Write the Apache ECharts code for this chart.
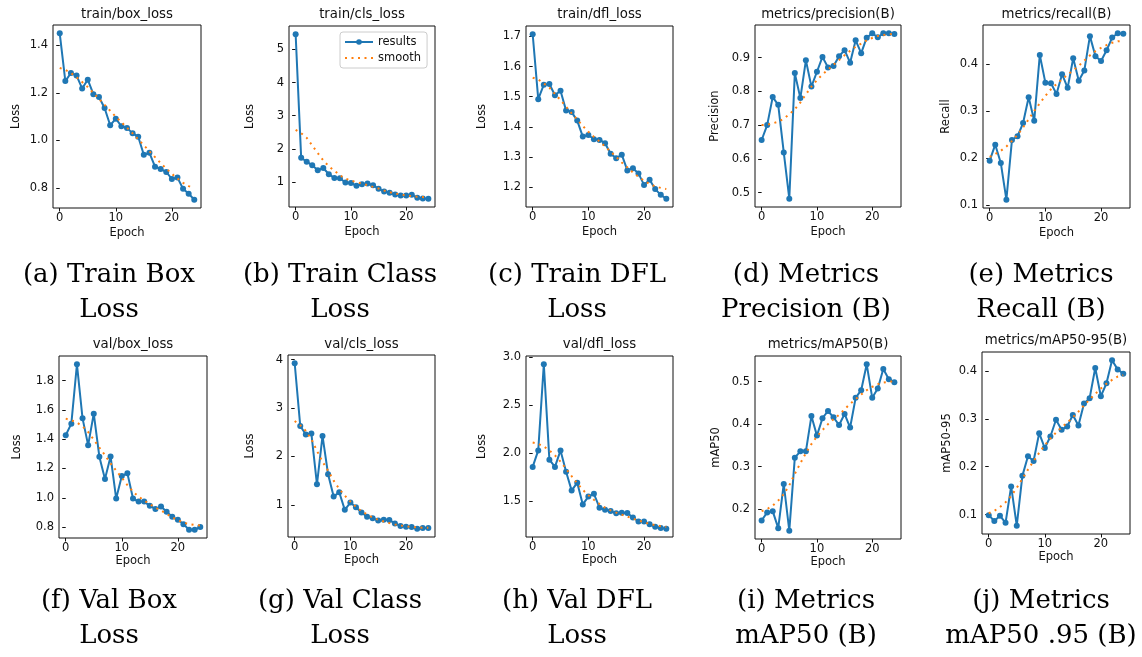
<!DOCTYPE html>
<html>
<head>
<meta charset="utf-8">
<script src="https://cdn.jsdelivr.net/npm/echarts@6/dist/echarts.min.js"></script>
<style>
  html, body { margin: 0; padding: 0; background: #fff; }
  #chart { width: 1142px; height: 657px; }
</style>
</head>
<body>
<div id="chart"></div>
<script>
// ---- training curves, one value per epoch ----
const epochs = [0,1,2,3,4,5,6,7,8,9,10,11,12,13,14,15,16,17,18,19,20,21,22,23,24];

const trainBoxResults = [1.451,1.250,1.284,1.273,1.219,1.256,1.195,1.183,1.137,1.064,1.092,1.060,1.053,1.030,1.016,0.940,0.948,0.890,0.880,0.868,0.838,0.844,0.797,0.776,0.751];
const trainBoxSmooth  = [1.305,1.297,1.284,1.266,1.246,1.225,1.200,1.175,1.150,1.125,1.100,1.077,1.054,1.030,1.005,0.980,0.955,0.930,0.905,0.882,0.860,0.840,0.822,0.808,0.800];

const trainClsResults = [5.46,1.73,1.61,1.50,1.35,1.42,1.23,1.12,1.11,0.98,0.97,0.88,0.93,0.95,0.90,0.79,0.71,0.67,0.62,0.59,0.59,0.61,0.52,0.50,0.49];
const trainClsSmooth  = [2.57,2.47,2.33,2.10,1.87,1.65,1.47,1.34,1.20,1.10,1.04,0.99,0.95,0.90,0.85,0.80,0.74,0.69,0.65,0.62,0.59,0.57,0.55,0.54,0.53];

const trainDflResults = [1.707,1.492,1.540,1.542,1.505,1.520,1.454,1.449,1.421,1.368,1.373,1.359,1.357,1.346,1.311,1.296,1.308,1.256,1.263,1.246,1.208,1.225,1.194,1.175,1.162];
const trainDflSmooth  = [1.563,1.557,1.544,1.530,1.509,1.489,1.467,1.445,1.425,1.403,1.384,1.367,1.352,1.335,1.318,1.301,1.282,1.266,1.249,1.235,1.222,1.211,1.203,1.198,1.194];

const precisionResults = [0.656,0.700,0.783,0.760,0.619,0.482,0.854,0.780,0.892,0.814,0.858,0.902,0.871,0.875,0.904,0.922,0.885,0.951,0.913,0.959,0.972,0.960,0.972,0.972,0.970];
const precisionSmooth  = [0.700,0.701,0.705,0.710,0.719,0.732,0.747,0.767,0.791,0.814,0.833,0.850,0.864,0.879,0.893,0.907,0.920,0.932,0.941,0.951,0.958,0.964,0.967,0.969,0.970];

const recallResults = [0.194,0.228,0.189,0.111,0.238,0.246,0.274,0.329,0.279,0.419,0.360,0.359,0.336,0.378,0.349,0.412,0.364,0.386,0.459,0.416,0.406,0.429,0.456,0.465,0.464];
const recallSmooth  = [0.202,0.208,0.215,0.224,0.236,0.249,0.265,0.282,0.300,0.316,0.332,0.346,0.357,0.367,0.377,0.386,0.396,0.407,0.418,0.427,0.434,0.440,0.445,0.448,0.449];

const valBoxResults = [1.427,1.506,1.911,1.542,1.359,1.574,1.280,1.128,1.282,0.995,1.148,1.167,0.995,0.974,0.974,0.945,0.924,0.940,0.904,0.870,0.850,0.820,0.782,0.782,0.800];
const valBoxSmooth  = [1.540,1.529,1.513,1.488,1.449,1.397,1.343,1.291,1.234,1.185,1.137,1.087,1.042,1.008,0.981,0.956,0.933,0.913,0.890,0.867,0.847,0.831,0.820,0.814,0.811];

const valClsResults = [3.925,2.630,2.452,2.473,1.425,2.425,1.630,1.171,1.260,0.897,1.048,0.952,0.842,0.753,0.726,0.678,0.692,0.685,0.616,0.562,0.548,0.541,0.507,0.521,0.521];
const valClsSmooth  = [2.733,2.644,2.527,2.356,2.116,1.890,1.705,1.500,1.329,1.192,1.068,0.959,0.870,0.801,0.740,0.692,0.658,0.623,0.596,0.575,0.555,0.541,0.534,0.527,0.527];

const valDflResults = [1.853,2.025,2.924,1.929,1.853,2.025,1.802,1.606,1.689,1.462,1.544,1.572,1.428,1.407,1.393,1.369,1.376,1.373,1.325,1.284,1.284,1.256,1.229,1.215,1.208];
const valDflSmooth  = [2.107,2.094,2.066,2.025,1.974,1.908,1.833,1.757,1.682,1.613,1.558,1.510,1.466,1.428,1.400,1.376,1.356,1.335,1.314,1.294,1.277,1.259,1.246,1.235,1.229];

const map50Results = [0.173,0.192,0.195,0.155,0.259,0.149,0.321,0.336,0.336,0.419,0.373,0.414,0.431,0.416,0.398,0.424,0.392,0.462,0.480,0.541,0.462,0.484,0.530,0.506,0.499];
const map50Smooth  = [0.195,0.200,0.208,0.220,0.235,0.256,0.283,0.308,0.332,0.353,0.371,0.386,0.400,0.412,0.422,0.435,0.448,0.459,0.470,0.480,0.488,0.494,0.498,0.500,0.501];

const map5095Results = [0.099,0.087,0.098,0.083,0.159,0.077,0.181,0.222,0.212,0.270,0.239,0.263,0.298,0.277,0.284,0.308,0.286,0.332,0.343,0.406,0.347,0.374,0.422,0.403,0.394];
const map5095Smooth  = [0.103,0.108,0.116,0.126,0.139,0.156,0.175,0.194,0.212,0.229,0.245,0.259,0.271,0.282,0.292,0.303,0.315,0.328,0.340,0.352,0.363,0.373,0.381,0.388,0.391];

// ---- tick values ----
const epochTicks     = [0, 10, 20];
const ticksTrainBox  = [0.8, 1.0, 1.2, 1.4];
const ticksTrainCls  = [1, 2, 3, 4, 5];
const ticksTrainDfl  = [1.2, 1.3, 1.4, 1.5, 1.6, 1.7];
const ticksPrecision = [0.5, 0.6, 0.7, 0.8, 0.9];
const ticksRecall    = [0.1, 0.2, 0.3, 0.4];
const ticksValBox    = [0.8, 1.0, 1.2, 1.4, 1.6, 1.8];
const ticksValCls    = [1, 2, 3, 4];
const ticksValDfl    = [1.5, 2.0, 2.5, 3.0];
const ticksMap50     = [0.2, 0.3, 0.4, 0.5];
const ticksMap5095   = [0.1, 0.2, 0.3, 0.4];

// ---- panel titles, axis names and captions ----
const panelTitles = ['train/box_loss','train/cls_loss','train/dfl_loss','metrics/precision(B)','metrics/recall(B)',
                     'val/box_loss','val/cls_loss','val/dfl_loss','metrics/mAP50(B)','metrics/mAP50-95(B)'];
const yNames = ['Loss','Loss','Loss','Precision','Recall','Loss','Loss','Loss','mAP50','mAP50-95'];
const captions = [
  ['(a) Train Box', 'Loss'], ['(b) Train Class', 'Loss'], ['(c) Train DFL', 'Loss'],
  ['(d) Metrics', 'Precision (B)'], ['(e) Metrics', 'Recall (B)'],
  ['(f) Val Box', 'Loss'], ['(g) Val Class', 'Loss'], ['(h) Val DFL', 'Loss'],
  ['(i) Metrics', 'mAP50 (B)'], ['(j) Metrics', 'mAP50 .95 (B)']
];

// ---- layout of the ten small plots ----
const series = [
  [trainBoxResults, trainBoxSmooth, ticksTrainBox, 1],
  [trainClsResults, trainClsSmooth, ticksTrainCls, 0],
  [trainDflResults, trainDflSmooth, ticksTrainDfl, 1],
  [precisionResults, precisionSmooth, ticksPrecision, 1],
  [recallResults, recallSmooth, ticksRecall, 1],
  [valBoxResults, valBoxSmooth, ticksValBox, 1],
  [valClsResults, valClsSmooth, ticksValCls, 0],
  [valDflResults, valDflSmooth, ticksValDfl, 1],
  [map50Results, map50Smooth, ticksMap50, 1],
  [map5095Results, map5095Smooth, ticksMap5095, 1]
];
const layout = [
  { rect: [53, 25, 148, 183],  yGap: 38, titleY: 15,  xGap: 19 },
  { rect: [289, 26, 146, 181], yGap: 40, titleY: 15,  xGap: 19 },
  { rect: [526, 26, 147, 181], yGap: 45, titleY: 15,  xGap: 19 },
  { rect: [755, 25, 146, 182], yGap: 41, titleY: 15,  xGap: 19 },
  { rect: [983, 25, 147, 183], yGap: 38, titleY: 15,  xGap: 19 },
  { rect: [59, 356, 148, 182], yGap: 43, titleY: 345, xGap: 16 },
  { rect: [288, 355, 147, 182], yGap: 39, titleY: 345, xGap: 16 },
  { rect: [526, 356, 147, 181], yGap: 45, titleY: 345, xGap: 16 },
  { rect: [755, 356, 146, 183], yGap: 40, titleY: 345, xGap: 16 },
  { rect: [982, 352, 148, 182], yGap: 36, titleY: 341, xGap: 16 }
];
const captionCenters = [109, 340, 577, 806, 1041];
const captionRowY = [[275, 310], [601, 636]];

const BLUE = '#1f77b4', ORANGE = '#ff7f0e';
const SANS = '"DejaVu Sans", sans-serif';
const SERIF = '"DejaVu Serif", serif';

function paddedRange(a, b) {
  const all = a.concat(b);
  const lo = Math.min.apply(null, all), hi = Math.max.apply(null, all);
  const pad = (hi - lo) * 0.05;
  return [lo - pad, hi + pad];
}
function pairs(values) {
  return epochs.map((e, i) => [e, values[i]]);
}

const grids = [], xAxes = [], yAxes = [], seriesList = [], titles = [], graphics = [];

layout.forEach((L, i) => {
  const [res, smo, ticks, dec] = series[i];
  const [x, y, w, h] = L.rect;
  grids.push({ left: x, top: y, width: w, height: h, show: true, borderColor: '#111', borderWidth: 1, backgroundColor: 'transparent' });
  xAxes.push({
    type: 'value', gridIndex: i, min: -1.2, max: 25.2,
    name: 'Epoch', nameLocation: 'middle', nameGap: L.xGap,
    nameTextStyle: { fontFamily: SANS, fontSize: 11.5, color: '#111' },
    axisLine: { show: false },
    axisTick: { show: true, inside: false, length: 3.5, lineStyle: { color: '#111', width: 1 }, customValues: epochTicks },
    axisLabel: { fontFamily: SANS, fontSize: 11.5, color: '#111', margin: 4, customValues: epochTicks },
    splitLine: { show: false }
  });
  const [lo, hi] = paddedRange(res, smo);
  yAxes.push({
    type: 'value', gridIndex: i, min: lo, max: hi,
    name: yNames[i], nameLocation: 'middle', nameRotate: 90, nameGap: L.yGap - 7,
    nameTextStyle: { fontFamily: SANS, fontSize: 11.5, color: '#111' },
    axisLine: { show: false },
    axisTick: { show: true, inside: false, length: 3.5, lineStyle: { color: '#111', width: 1 }, customValues: ticks },
    axisLabel: { fontFamily: SANS, fontSize: 11.5, color: '#111', margin: 5, customValues: ticks,
                 formatter: v => Number(v).toFixed(dec) },
    splitLine: { show: false }
  });
  seriesList.push({
    name: 'results', type: 'line', xAxisIndex: i, yAxisIndex: i, data: pairs(res),
    symbol: 'circle', symbolSize: 6, showSymbol: true,
    lineStyle: { color: BLUE, width: 2 }, itemStyle: { color: BLUE }, z: 2
  });
  seriesList.push({
    name: 'smooth', type: 'line', xAxisIndex: i, yAxisIndex: i, data: pairs(smo),
    symbol: 'none', showSymbol: false,
    lineStyle: { color: ORANGE, width: 2, type: [2, 4.5], cap: 'butt' }, itemStyle: { color: ORANGE }, z: 3
  });
  titles.push({
    text: panelTitles[i], left: x + w / 2, top: L.titleY - 8, textAlign: 'center', padding: 0,
    textStyle: { fontFamily: SANS, fontSize: 13.3, fontWeight: 'normal', color: '#111', lineHeight: 16 }
  });
  const col = i % 5, row = Math.floor(i / 5);
  captions[i].forEach((line, k) => {
    graphics.push({
      type: 'text', x: captionCenters[col], y: captionRowY[row][k], silent: true,
      style: { text: line, font: '26px ' + SERIF, textAlign: 'center', textVerticalAlign: 'middle', fill: '#000' }
    });
  });
});

const chart = echarts.init(document.getElementById('chart'), null, { renderer: 'canvas' });
chart.setOption({
  animation: false,
  backgroundColor: '#fff',
  title: titles,
  grid: grids,
  xAxis: xAxes,
  yAxis: yAxes,
  series: seriesList,
  graphic: graphics,
  legend: {
    data: [
      { name: 'results' },
      { name: 'smooth', itemStyle: { opacity: 0 } }
    ],
    orient: 'vertical', left: 340, top: 32,
    itemWidth: 28, itemHeight: 7, itemGap: 4, padding: [4, 6, 4, 4],
    backgroundColor: 'rgba(255,255,255,0.8)', borderColor: '#cccccc', borderWidth: 1, borderRadius: 3,
    textStyle: { fontFamily: SANS, fontSize: 11.5, color: '#111' }
  }
});
</script>
</body>
</html>
